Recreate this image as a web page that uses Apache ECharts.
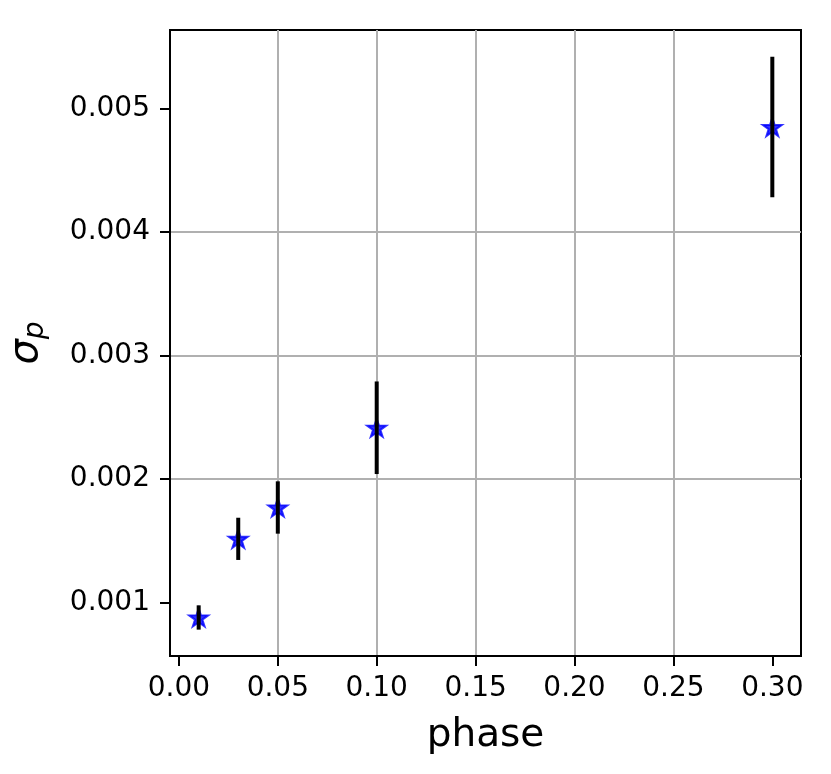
<!DOCTYPE html>
<html>
<head>
<meta charset="utf-8">
<script src="https://cdn.jsdelivr.net/npm/echarts@6/dist/echarts.min.js"></script>
<style>html,body{margin:0;padding:0;background:#fff;}#c{width:831px;height:774px;}</style>
</head>
<body>
<div id="c"></div>
<script>
const phase = [0.01, 0.03, 0.05, 0.10, 0.30];
const sigma = [0.000877, 0.001514, 0.001768, 0.002414, 0.00485];
const sigmaErr = [0.0000985, 0.000171, 0.000212, 0.000375, 0.000569];
const xTicks = [0.00, 0.05, 0.10, 0.15, 0.20, 0.25, 0.30];
const yTicks = [0.001, 0.002, 0.003, 0.004, 0.005];

const FONT = 'DejaVu Sans';
const starPath = 'path://M100 0L122.45 69.1L195.1 69.1L136.3 111.8L158.8 180.9L100 138.2L41.2 180.9L63.7 111.8L4.9 69.1L77.55 69.1Z';

const pts = phase.map((x, i) => [x, sigma[i], sigmaErr[i]]);

const chart = echarts.init(document.getElementById('c'), null, {renderer: 'canvas'});
chart.setOption({
  animation: false,
  backgroundColor: '#fff',
  grid: {left: 170, right: 30, top: 30, bottom: 118, containLabel: false, outerBoundsMode: 'none',
    show: true, borderColor: '#000', borderWidth: 2, backgroundColor: 'transparent'},
  xAxis: {
    type: 'value', min: -0.0045, max: 0.3145,
    name: 'phase', nameLocation: 'middle', nameGap: 60,
    nameTextStyle: {fontFamily: FONT, fontSize: 39, color: '#000'},
    axisLine: {show: true, onZero: false, lineStyle: {color: '#000', width: 2}},
    axisTick: {show: true, inside: false, length: 10, lineStyle: {color: '#000', width: 2}, customValues: xTicks},
    axisLabel: {show: true, margin: 19, fontFamily: FONT, fontSize: 28, color: '#000', customValues: xTicks,
      formatter: v => v.toFixed(2)},
    splitLine: {show: true, showMinLine: false, showMaxLine: false, lineStyle: {color: '#b0b0b0', width: 2}}
  },
  yAxis: {
    type: 'value', min: 0.000565, max: 0.005636,
    name: '{s|σ}{p|p}', nameLocation: 'middle', nameGap: 120, nameRotate: 90,
    nameTextStyle: {fontFamily: FONT, color: '#000',
      rich: {s: {fontFamily: FONT, fontStyle: 'italic', fontSize: 40, color: '#000'},
             p: {fontFamily: FONT, fontStyle: 'italic', fontSize: 28, color: '#000', padding: [18, 0, 0, 0]}}},
    axisLine: {show: true, onZero: false, lineStyle: {color: '#000', width: 2}},
    axisTick: {show: true, inside: false, length: 10, lineStyle: {color: '#000', width: 2}, customValues: yTicks},
    axisLabel: {show: true, margin: 20, fontFamily: FONT, fontSize: 28, color: '#000', customValues: yTicks,
      formatter: v => v.toFixed(3)},
    splitLine: {show: true, showMinLine: false, showMaxLine: false, lineStyle: {color: '#b0b0b0', width: 2}}
  },
  series: [
    {
      type: 'scatter', data: pts.map(p => [p[0], p[1]]),
      symbol: starPath, symbolSize: [19, 18],
      itemStyle: {color: '#0000ff', borderColor: '#0000ff', borderWidth: 2},
      z: 2
    },
    {
      type: 'custom', data: pts, z: 3,
      encode: {x: 0, y: 1},
      renderItem: function (params, api) {
        const x = api.value(0), y = api.value(1), e = api.value(2);
        const lo = api.coord([x, y - e]);
        const hi = api.coord([x, y + e]);
        return {type: 'line', shape: {x1: lo[0], y1: lo[1], x2: hi[0], y2: hi[1]},
          style: {stroke: '#000', lineWidth: 4}};
      }
    }
  ]
});
</script>
</body>
</html>
